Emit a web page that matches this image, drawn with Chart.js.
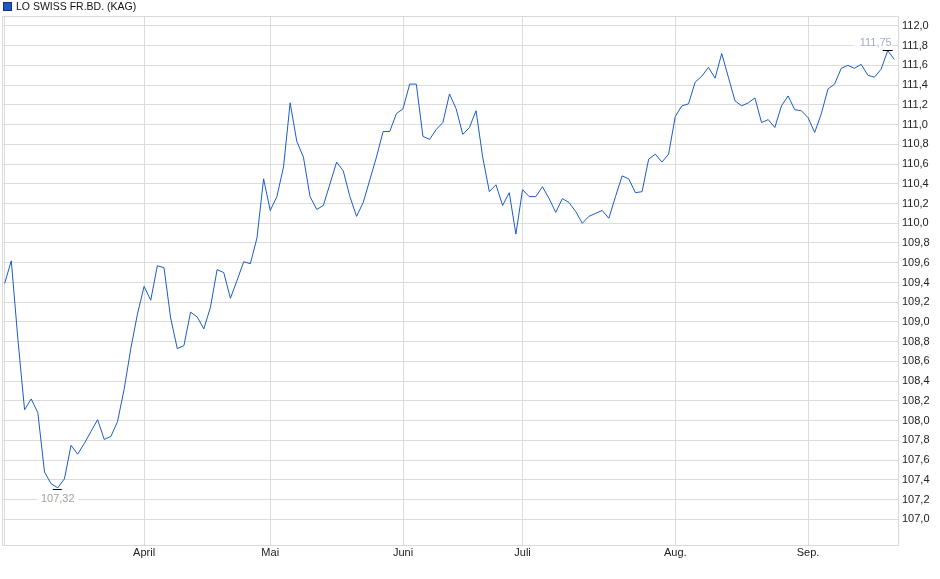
<!DOCTYPE html>
<html lang="de">
<head>
  <meta charset="UTF-8" />
  <title>LO SWISS FR.BD. (KAG)</title>
  <script src="https://cdn.jsdelivr.net/npm/chart.js"></script>
  <style>
    body {
      margin: 0;
      background: #ffffff;
      font-family: 'Liberation Sans', Arial, sans-serif;
    }
    .graph-container {
      width: 940px;
      height: 579px;
      position: relative;
    }
  </style>
</head>
<body>
  <div class="graph-container">
    <canvas id="canvasKurs"></canvas>
  </div>

  <script>
    const serieName = 'LO SWISS FR.BD. (KAG)';

    // Kurse pro Handelstag
    const kurse = [
      109.39, 109.62, 108.82, 108.11, 108.22, 108.08, 107.48, 107.36, 107.32, 107.41,
      107.75, 107.66, 107.77, 107.89, 108.01, 107.81, 107.84, 107.99, 108.32, 108.73,
      109.08, 109.36, 109.22, 109.57, 109.55, 109.04, 108.73, 108.76, 109.10, 109.05,
      108.93, 109.15, 109.53, 109.50, 109.24, 109.42, 109.61, 109.59, 109.85, 110.45,
      110.13, 110.27, 110.57, 111.22, 110.83, 110.67, 110.27, 110.14, 110.18, 110.40,
      110.62, 110.53, 110.27, 110.07, 110.21, 110.44, 110.67, 110.93, 110.93, 111.11,
      111.16, 111.41, 111.41, 110.88, 110.85, 110.95, 111.02, 111.31, 111.16, 110.90,
      110.97, 111.14, 110.67, 110.32, 110.39, 110.18, 110.31, 109.89, 110.34, 110.27,
      110.27, 110.37, 110.25, 110.11, 110.25, 110.21, 110.12, 110.00, 110.07, 110.10,
      110.13, 110.05, 110.27, 110.48, 110.45, 110.31, 110.32, 110.65, 110.70, 110.62,
      110.70, 111.08, 111.19, 111.21, 111.43, 111.49, 111.58, 111.47, 111.72, 111.48,
      111.24, 111.19, 111.22, 111.27, 111.02, 111.05, 110.97, 111.19, 111.29, 111.15,
      111.14, 111.07, 110.92, 111.11, 111.36, 111.41, 111.57, 111.60, 111.57, 111.61,
      111.50, 111.48, 111.56, 111.75, 111.66
    ];

    // Monatsanfang als Handelstag-Index
    const monatsIndex = [0, 21, 40, 60, 78, 101, 121];
    const monatsLabels = ['', 'April', 'Mai', 'Juni', 'Juli', 'Aug.', 'Sep.'];

    const yTicks = [107.0, 107.2, 107.4, 107.6, 107.8, 108.0, 108.2, 108.4, 108.6, 108.8,
      109.0, 109.2, 109.4, 109.6, 109.8, 110.0, 110.2, 110.4, 110.6, 110.8,
      111.0, 111.2, 111.4, 111.6, 111.8, 112.0];

    const linienFarbe = '#1a5cc4';
    const fmt = (v, d) => v.toFixed(d).replace('.', ',');

    // Rahmen um den Plotbereich + Legende oben links
    const rahmen = {
      id: 'rahmen',
      afterDraw(chart) {
        const a = chart.chartArea;
        const ctx = chart.ctx;
        ctx.save();
        ctx.strokeStyle = '#d9d9d9';
        ctx.lineWidth = 1;
        ctx.strokeRect(Math.round(a.left) + 0.5, Math.round(a.top) + 0.5,
          Math.round(a.right - a.left), Math.round(a.bottom - a.top));

        ctx.fillStyle = linienFarbe;
        ctx.fillRect(3, 2, 9, 9);
        ctx.strokeStyle = '#1c2f66';
        ctx.strokeRect(3.5, 2.5, 8, 8);
        ctx.fillStyle = '#111';
        ctx.font = '10.5px "Liberation Sans", Arial, sans-serif';
        ctx.textBaseline = 'middle';
        ctx.textAlign = 'left';
        ctx.fillText(chart.data.datasets[0].label, 16, 7);
        ctx.restore();
      }
    };

    // Min / Max markieren
    const extrema = {
      id: 'extrema',
      afterDatasetsDraw(chart) {
        const ctx = chart.ctx;
        const xs = chart.scales.x, ys = chart.scales.y;
        const minV = Math.min(...kurse), maxV = Math.max(...kurse);
        const iMin = kurse.indexOf(minV), iMax = kurse.lastIndexOf(maxV);
        ctx.save();
        ctx.font = '11px "Liberation Sans", Arial, sans-serif';
        ctx.textBaseline = 'middle';

        // Minimum
        let px = xs.getPixelForValue(iMin), py = Math.round(ys.getPixelForValue(minV)) + 0.5;
        ctx.strokeStyle = '#000';
        ctx.lineWidth = 1;
        ctx.beginPath(); ctx.moveTo(px - 5, py + 1); ctx.lineTo(px + 4, py + 1); ctx.stroke();
        let txt = fmt(minV, 2);
        let w = ctx.measureText(txt).width;
        ctx.fillStyle = 'rgba(255,255,255,0.9)';
        ctx.fillRect(px - w / 2 - 4, py + 4, w + 8, 13);
        ctx.fillStyle = '#a8a09c';
        ctx.textAlign = 'center';
        ctx.fillText(txt, px, py + 10);

        // Maximum
        px = xs.getPixelForValue(iMax); py = Math.round(ys.getPixelForValue(maxV)) + 0.5;
        ctx.beginPath(); ctx.moveTo(px - 5, py - 1); ctx.lineTo(px + 5, py - 1); ctx.stroke();
        txt = fmt(maxV, 2);
        w = ctx.measureText(txt).width;
        ctx.fillStyle = 'rgba(255,255,255,0.9)';
        ctx.fillRect(px + 4 - w - 6, py - 16, w + 6, 13);
        ctx.fillStyle = '#a0aec8';
        ctx.textAlign = 'right';
        ctx.fillText(txt, px + 4, py - 9);
        ctx.restore();
      }
    };

    const ctx = document.getElementById('canvasKurs').getContext('2d');
    window.grafica = new Chart(ctx, {
      type: 'line',
      data: {
        datasets: [{
          label: serieName,
          data: kurse.map((v, i) => ({ x: i, y: v })),
          borderColor: linienFarbe,
          backgroundColor: linienFarbe,
          borderWidth: 1,
          pointRadius: 0,
          tension: 0
        }]
      },
      options: {
        responsive: true,
        maintainAspectRatio: false,
        animation: false,
        layout: { padding: { left: 2, top: 16, right: 0, bottom: 0 } },
        plugins: {
          legend: { display: false },
          tooltip: { enabled: false }
        },
        scales: {
          x: {
            type: 'linear',
            min: -0.4,
            max: 134.55,
            afterBuildTicks: (scale) => { scale.ticks = monatsIndex.map(v => ({ value: v })); },
            afterFit: (scale) => { scale.height = 34; },
            ticks: {
              color: '#222',
              font: { size: 11, family: '"Liberation Sans", Arial, sans-serif' },
              padding: 1,
              maxRotation: 0,
              autoSkip: false,
              callback: (v) => monatsLabels[monatsIndex.indexOf(v)] ?? ''
            },
            grid: { color: '#dcdcdc', drawTicks: false },
            border: { display: false }
          },
          y: {
            position: 'right',
            min: 106.74,
            max: 112.1,
            afterBuildTicks: (scale) => { scale.ticks = yTicks.map(v => ({ value: v })); },
            afterFit: (scale) => { scale.width = 42; },
            ticks: {
              color: '#222',
              font: { size: 11, family: '"Liberation Sans", Arial, sans-serif' },
              padding: 4,
              autoSkip: false,
              callback: (v) => fmt(v, 1)
            },
            grid: { color: '#dcdcdc', drawTicks: false },
            border: { display: false }
          }
        }
      },
      plugins: [rahmen, extrema]
    });
  </script>
</body>
</html>
